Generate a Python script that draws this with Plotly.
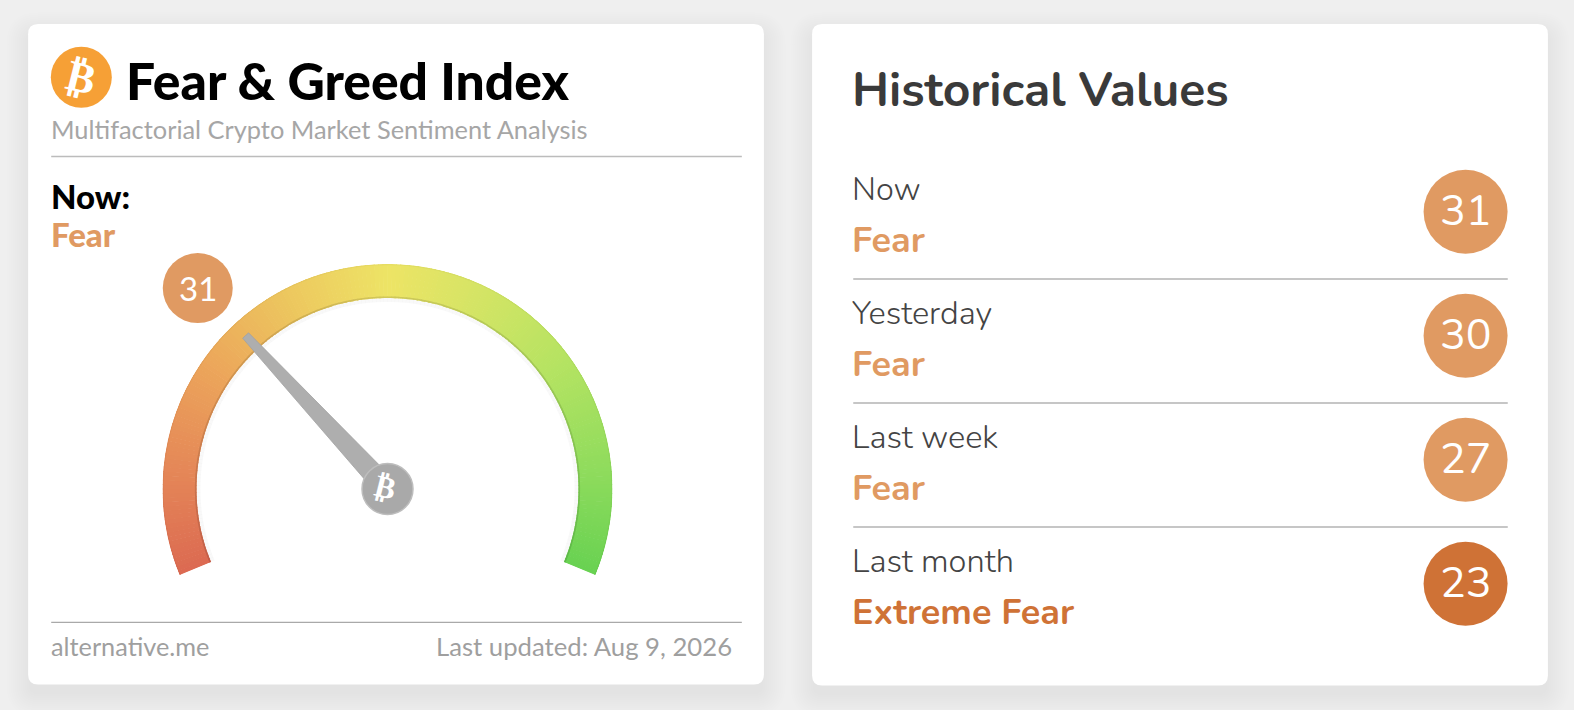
import numpy as np
import plotly.graph_objects as go

# ---- data ----
now_value = 31
now_status = "Fear"
row_labels = ["Now", "Yesterday", "Last week", "Last month"]
row_status = ["Fear", "Fear", "Fear", "Extreme Fear"]
row_values = [31, 30, 27, 23]
row_colors = ["#e09a62", "#e09a62", "#e09a62", "#cf7236"]
gauge_stop_pos = [0, 12, 25, 38, 50, 62, 75, 88, 100]
gauge_stop_col = ["#dc6a52", "#e58758", "#eca55b", "#edc85f", "#eee466", "#d3e565", "#b3e362", "#8fdc5d", "#69d252"]

W, H = 1574, 710
VW, VH = 1568, 707.3   # page coordinates used for layout below
BG = "#efefef"
LATO, BODY = "Lato", "Nunito, Noto Sans, sans-serif"
GAUGE_SPAN = 225.0
CX0, R_PX, TOP = 162.5, 225, 264


def rgb(h):
    return np.array([int(h[i:i + 2], 16) for i in (1, 3, 5)], float)


def mix(v, k=1.0):
    c = [np.interp(v, gauge_stop_pos, [rgb(s)[j] for s in gauge_stop_col]) * k for j in range(3)]
    return "rgb(%d,%d,%d)" % tuple(c)


def round_rect(x0, y0, x1, y1, r):
    return (f"M{x0 + r},{y0} L{x1 - r},{y0} Q{x1},{y0} {x1},{y0 + r} L{x1},{y1 - r} Q{x1},{y1} {x1 - r},{y1} "
            f"L{x0 + r},{y1} Q{x0},{y1} {x0},{y1 - r} L{x0},{y0 + r} Q{x0},{y0} {x0 + r},{y0} Z")


shapes = []
cards = [(28, 24, 761, 682), (809, 24, 1542, 683)]
for c in cards:
    for i in range(12):
        e = 22 - 2 * i
        shapes.append(dict(type="path", path=round_rect(c[0] - e, c[1] - e + 10, c[2] + e, c[3] + e + 10, 10 + e),
                           xref="x", yref="y", fillcolor="rgba(0,0,0,0.0048)", line_width=0, layer="below"))
    shapes.append(dict(type="path", path=round_rect(*c, 10), xref="x", yref="y",
                       fillcolor="#ffffff", line_width=0, layer="below"))


def hline(x0, x1, y, col, w):
    shapes.append(dict(type="line", x0=x0, x1=x1, y0=y, y1=y, xref="x", yref="y",
                       line=dict(color=col, width=w), layer="below"))


hline(51, 739, 156, "#bcbcbc", 1.5)
hline(51, 739, 620, "#a9a9a9", 1.2)
rows_y = [211, 334.5, 458, 581.5]
for y in rows_y[:-1]:
    hline(850, 1502, y + 67, "#c6c6c6", 2)

anns = []


def note(x, y, text, size, color, fam=LATO, weight=400, anchor="left", angle=0):
    anns.append(dict(x=x, y=y, xref="x", yref="y", text=text, showarrow=False, xanchor=anchor, yanchor="middle",
                     textangle=angle, font=dict(family=fam, size=size, color=color, weight=weight)))


note(124, 80, "Fear &amp; Greed Index", 51.6, "#000000", weight=900)
note(49, 128.5, "Multifactorial Crypto Market Sentiment Analysis", 25.4, "#a6a6a6")
note(49, 195, "Now:", 33, "#000000", weight=900)
note(49, 233, now_status, 33, "#e09a62", weight=900)
note(49, 644, "alternative.me", 25.3, "#9f9f9f")
note(731, 644, "Last updated: Aug 9, 2026", 25.7, "#9f9f9f", anchor="right")
note(81, 77, "₿", 43, "#ffffff", fam="DejaVu Sans", weight=700, anchor="center", angle=14)
note(384.5, 485, "₿", 31, "#ffffff", fam="DejaVu Sans", weight=700, anchor="center", angle=14)
note(847, 90, "Historical Values", 48, "#3a3a3a", fam=BODY, weight=700)
for lab, st, col, y in zip(row_labels, row_status, row_colors, rows_y):
    note(847, y - 22, lab, 32.6, "#444444", fam=BODY, weight=300)
    note(847, y + 29, st, 36, col, fam=BODY, weight=700)

fig = go.Figure()

# page coordinate overlay: badges
fig.add_trace(go.Scatter(
    x=[1460] * len(row_values), y=rows_y, mode="markers", marker=dict(size=84, color=row_colors, line_width=0),
    hoverinfo="skip", xaxis="x", yaxis="y"))
for v, y in zip(row_values, rows_y):
    note(1460, y - 1, str(v), 43, "#ffffff", fam=BODY, weight=400, anchor="center")
fig.add_trace(go.Scatter(
    x=[197], y=[287], mode="markers", marker=dict(size=70, color="#e09a62", line_width=0), hoverinfo="skip",
    xaxis="x", yaxis="y"))
note(197, 287, str(now_value), 33, "#ffffff", fam=LATO, weight=400, anchor="center")
fig.add_trace(go.Scatter(
    x=[81], y=[77], mode="markers", marker=dict(size=61, color="#f6a036", line_width=0), hoverinfo="skip",
    xaxis="x", yaxis="y"))

# gauge
steps = np.arange(0, 100, 0.5)
thetas = (steps + 0.25) * GAUGE_SPAN / 100
bar_w = 0.5 * GAUGE_SPAN / 100 * 1.15


def ring(base, thick, colors):
    fig.add_trace(go.Barpolar(r=[thick] * len(steps), base=[base] * len(steps), theta=thetas, width=[bar_w] * len(steps),
                              marker=dict(color=colors, line_width=0), hoverinfo="skip", subplot="polar"))


ring(187, 4, ["rgba(0,0,0,0.025)"] * len(steps))
ring(191, 34, [mix(v + 0.25) for v in steps])
ring(191, 1.6, [mix(v + 0.25, 0.88) for v in steps])
ring(223.8, 1.2, [mix(v + 0.25, 0.97) for v in steps])

# needle, placed from the value
th = now_value * GAUGE_SPAN / 100
tip_r, tip_h, base_h = 209, 4.0, 11.0
nr = [base_h, np.hypot(tip_r, tip_h), np.hypot(tip_r, tip_h), base_h, base_h]
nt = [th - 90, th - np.degrees(np.arctan2(tip_h, tip_r)), th + np.degrees(np.arctan2(tip_h, tip_r)), th + 90, th - 90]
fig.add_trace(go.Scatterpolar(r=nr, theta=nt, mode="lines", fill="toself", fillcolor="#aeaeae",
                              line=dict(color="#a2a2a2", width=0.8), hoverinfo="skip", subplot="polar"))
fig.add_trace(go.Scatterpolar(r=[0], theta=[0], mode="markers", cliponaxis=False,
                              marker=dict(size=51, color="#a9a9a9", line=dict(color="#bdbdbd", width=1.5)),
                              hoverinfo="skip", subplot="polar"))

h_px = R_PX * (1 + np.sin(np.radians(22.5)))
fig.update_layout(
    width=W, height=H, margin=dict(l=0, r=0, t=0, b=0), showlegend=False,
    paper_bgcolor=BG, plot_bgcolor="rgba(0,0,0,0)", shapes=shapes, annotations=anns, bargap=0,
    xaxis=dict(range=[0, VW], visible=False, domain=[0, 1], fixedrange=True),
    yaxis=dict(range=[VH, 0], visible=False, domain=[0, 1], fixedrange=True),
    polar=dict(
        domain=dict(x=[CX0 / W, (CX0 + 2 * R_PX) / W], y=[1 - (TOP + h_px) / H, 1 - TOP / H]),
        sector=[-22.5, 202.5], bgcolor="rgba(0,0,0,0)",
        radialaxis=dict(range=[0, R_PX], visible=False, showgrid=False),
        angularaxis=dict(visible=False, showgrid=False, rotation=202.5, direction="clockwise", thetaunit="degrees"),
    ),
)
fig.write_html("out.html", config=dict(displayModeBar=False),
               post_script="document.body.style.margin='0';document.body.style.overflow='hidden';")
